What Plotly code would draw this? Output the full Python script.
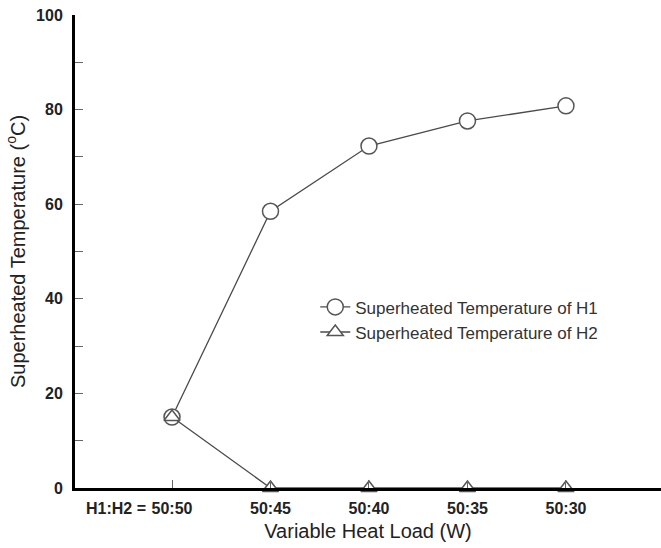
import plotly.graph_objects as go

categories = ["50:50", "50:45", "50:40", "50:35", "50:30"]
h1_temp = [15.0, 58.5, 72.3, 77.6, 80.8]
h2_temp = [15.0, 0.0, 0.0, 0.0, 0.0]
y_ticks = [0, 20, 40, 60, 80, 100]

xpos = list(range(len(categories)))
FONT = "Liberation Sans, Arial, sans-serif"

fig = go.Figure()
fig.add_trace(go.Scatter(
    x=xpos, y=h1_temp, mode="lines+markers",
    name="Superheated Temperature of H1",
    line=dict(color="#4a4a4a", width=1.3),
    marker=dict(symbol="circle", size=16, color="white",
                line=dict(color="#555555", width=1.5)),
    cliponaxis=False,
))
fig.add_trace(go.Scatter(
    x=xpos, y=h2_temp, mode="lines+markers",
    name="Superheated Temperature of H2",
    line=dict(color="#4a4a4a", width=1.3),
    marker=dict(symbol="triangle-up", size=14, color="white",
                line=dict(color="#555555", width=1.5)),
    cliponaxis=False,
))

fig.add_annotation(
    x=0, y=0, xref="x", yref="paper", yanchor="top", xanchor="right",
    text="<b>H1:H2 =</b>", showarrow=False, xshift=-24, yshift=-10,
    font=dict(family=FONT, size=16, color="#222"),
)

fig.update_layout(
    width=661, height=548,
    margin=dict(l=75, r=0, t=15, b=60),
    paper_bgcolor="white", plot_bgcolor="white",
    font=dict(family=FONT, color="#222"),
    showlegend=True,
    legend=dict(x=0.41, y=0.42, xanchor="left", yanchor="top",
                bgcolor="rgba(0,0,0,0)", font=dict(family=FONT, size=17, color="#333"),
                itemwidth=30, tracegroupgap=0),
    xaxis=dict(
        range=[-0.985, 4.965], tickmode="array", tickvals=xpos, ticktext=categories,
        ticks="inside", ticklen=8, tickcolor="#666", tickwidth=1,
        showline=True, linecolor="black", linewidth=3, mirror=False,
        showgrid=False, zeroline=False,
        tickfont=dict(family=FONT, size=16, weight="bold", color="#222"),
        ticklabelstandoff=4,
        title=dict(text="Variable Heat Load (W)", font=dict(family=FONT, size=20, color="#222"),
                   standoff=8),
    ),
    xaxis2=dict(
        matches="x", overlaying="x", side="top", anchor="y",
        showline=True, linecolor="black", linewidth=3,
        showticklabels=False, ticks="", showgrid=False, zeroline=False,
    ),
    yaxis=dict(
        range=[0, 100], tickmode="array", tickvals=y_ticks,
        ticks="inside", ticklen=8, tickcolor="#666", tickwidth=1,
        minor=dict(dtick=10, ticks="inside", ticklen=8, tickcolor="#666", tickwidth=1),
        showline=True, linecolor="black", linewidth=3, mirror=False,
        showgrid=False, zeroline=False,
        tickfont=dict(family=FONT, size=16, weight="bold", color="#222"),
        ticklabelstandoff=6,
        title=dict(text="Superheated Temperature (<sup>o</sup>C)",
                   font=dict(family=FONT, size=20, color="#222"), standoff=6),
    ),
)

fig.write_html("out.html", config={"displayModeBar": False})
